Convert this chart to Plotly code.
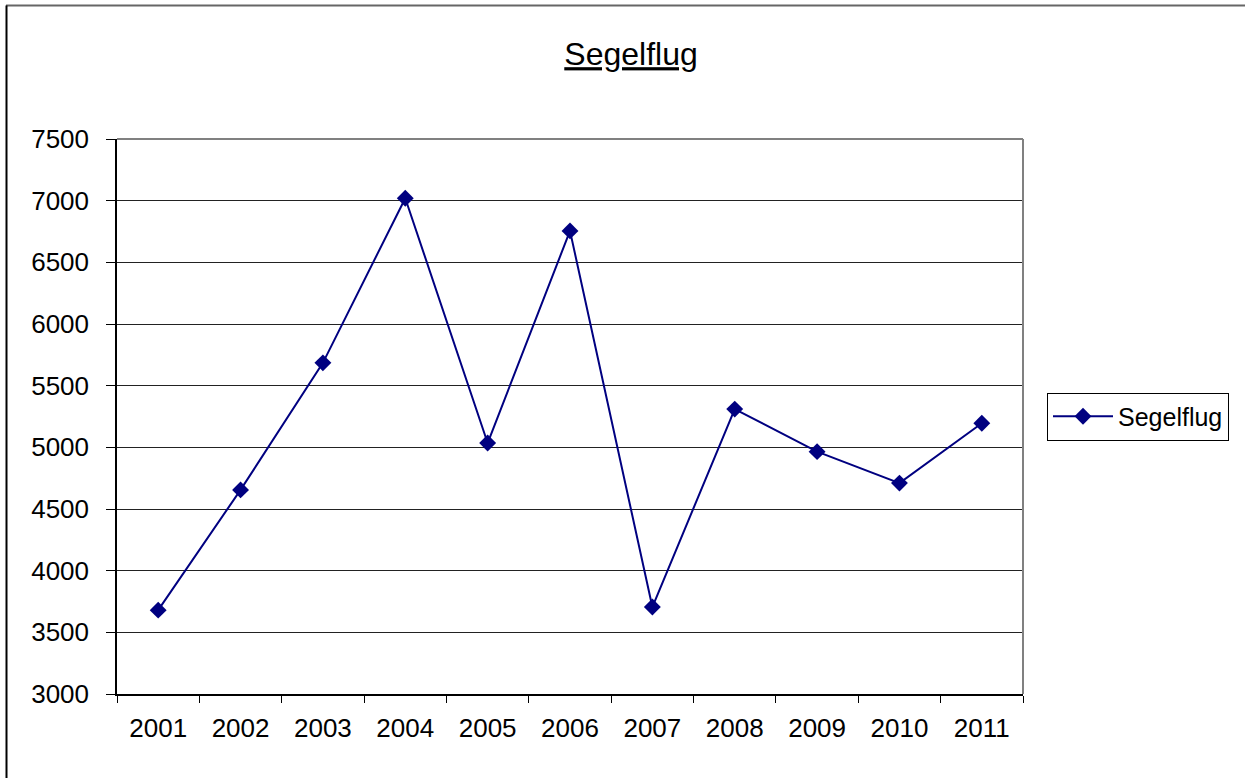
import plotly.graph_objects as go

years = ["2001", "2002", "2003", "2004", "2005", "2006", "2007", "2008", "2009", "2010", "2011"]
segelflug = [3680, 4655, 5685, 7020, 5035, 6755, 3705, 5310, 4965, 4710, 5195]

y_ticks = [3000, 3500, 4000, 4500, 5000, 5500, 6000, 6500, 7000, 7500]

fig = go.Figure()
fig.add_trace(go.Scatter(
    x=years, y=segelflug, name="Segelflug", mode="lines+markers",
    line=dict(color="#000080", width=2),
    marker=dict(symbol="diamond", size=13, color="#000080"),
))

font = "Liberation Sans, Arial, sans-serif"

fig.update_layout(
    width=1245, height=778,
    margin=dict(l=117, r=222, t=139, b=84),
    paper_bgcolor="white", plot_bgcolor="white",
    font=dict(family=font, color="black", size=26),
    title=dict(text="<u>Segelflug</u>", x=(631 - 117) / 906, xref="paper", xanchor="center",
               y=1 - 54 / 778, yanchor="middle", font=dict(size=32, family=font)),
    showlegend=True,
    legend=dict(x=(1047 - 117) / 906, xanchor="left", y=0.5, yanchor="middle",
                bordercolor="black", borderwidth=1, font=dict(size=25),
                bgcolor="white", itemwidth=60),
)

fig.update_xaxes(
    type="category", range=[-0.5, 10.5], tickson="boundaries",
    ticks="outside", ticklen=7, tickcolor="black", tickwidth=1,
    showline=True, linecolor="black", linewidth=1.5,
    showgrid=False, ticklabelstandoff=10,
)
fig.update_yaxes(
    range=[3000, 7500], tickvals=y_ticks,
    ticks="outside", ticklen=9, tickcolor="black", tickwidth=1,
    showline=True, linecolor="black", linewidth=1.5,
    showgrid=True, gridcolor="#222222", gridwidth=1,
    zeroline=False, ticklabelstandoff=12,
)

# plot area border (gray top and right)
fig.add_shape(type="line", xref="paper", yref="paper", x0=0, x1=1, y0=1, y1=1,
              line=dict(color="#808080", width=2))
fig.add_shape(type="line", xref="paper", yref="paper", x0=1, x1=1, y0=0, y1=1,
              line=dict(color="#808080", width=2))

# outer chart frame (top and left edges visible)
top = (694 - 5.5) / 555
fig.add_shape(type="line", xref="paper", yref="paper", x0=(6 - 117) / 906, x1=(1250 - 117) / 906,
              y0=top, y1=top, line=dict(color="#666666", width=2))
fig.add_shape(type="line", xref="paper", yref="paper", x0=(6.5 - 117) / 906, x1=(6.5 - 117) / 906,
              y0=top, y1=(694 - 790) / 555, line=dict(color="black", width=2))

fig.write_html("out.html", config={"displayModeBar": False},
               post_script="document.body.style.margin='0';")
